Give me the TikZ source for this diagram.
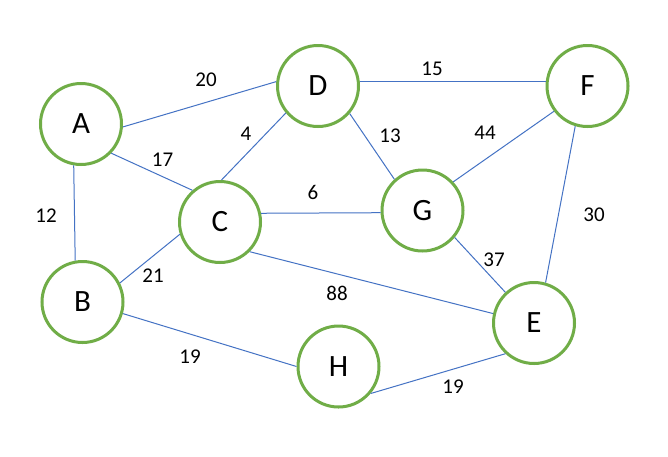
\documentclass[tikz,border=0pt]{standalone}
\usepackage{fontspec}
\setmainfont{Carlito}
\definecolor{vgreen}{HTML}{70AD47}
\definecolor{eblue}{HTML}{4472C4}
\begin{document}
\begin{tikzpicture}[x=1pt,y=-1pt,
  vertex/.style={circle,draw=vgreen,line width=3pt,fill=white,minimum size=81pt,inner sep=0pt,font=\fontsize{31}{31}\selectfont},
  edge/.style={draw=eblue,line width=1pt},
  wlabel/.style={font=\fontsize{21}{21}\selectfont,inner sep=0pt}]
\useasboundingbox[fill=white] (0,0) rectangle (668,456);
% edges drawn first, nodes on top
\node[vertex] (A) at (81,124) {A};
\node[vertex] (B) at (82.5,302) {B};
\node[vertex] (C) at (220,222) {C};
\node[vertex] (D) at (318,86) {D};
\node[vertex] (E) at (534,323) {E};
\node[vertex] (F) at (587.5,86) {F};
\node[vertex] (G) at (422.5,210.5) {G};
\node[vertex] (H) at (338.5,366.5) {H};
\draw[edge] (A.-4) -- (D.174);
\draw[edge] (A.-44) -- (C.131);
\draw[edge] (A.-100) -- (B.100);
\draw[edge] (D.-140) -- (C.88);
\draw[edge] (D.6) -- (F.174);
\draw[edge] (D.-41) -- (G.132);
\draw[edge] (C.12) -- (G.-177);
\draw[edge] (C.-45) -- (E.167);
\draw[edge] (C.-163) -- (B.27);
\draw[edge] (B.-16) -- (H.180);
\draw[edge] (H.-40) -- (E.-133);
\draw[edge] (G.-40) -- (E.133);
\draw[edge] (G.43) -- (F.-143);
\draw[edge] (F.-107) -- (E.74);
% weights
\node[wlabel] (w20) at (206,80) {20};
\node[wlabel] (w15) at (432,69) {15};
\node[wlabel] (w4) at (246,134) {4};
\node[wlabel] (w17) at (162.5,159.5) {17};
\node[wlabel] (w13) at (390,136) {13};
\node[wlabel] (w44) at (485,133) {44};
\node[wlabel] (w6) at (313,192) {6};
\node[wlabel] (w12) at (46,216) {12};
\node[wlabel] (w30) at (594,215) {30};
\node[wlabel] (w21) at (153,276) {21};
\node[wlabel] (w88) at (337,293) {88};
\node[wlabel] (w37) at (494,260) {37};
\node[wlabel] (w19a) at (190,357) {19};
\node[wlabel] (w19b) at (453,387) {19};
\end{tikzpicture}
\end{document}
